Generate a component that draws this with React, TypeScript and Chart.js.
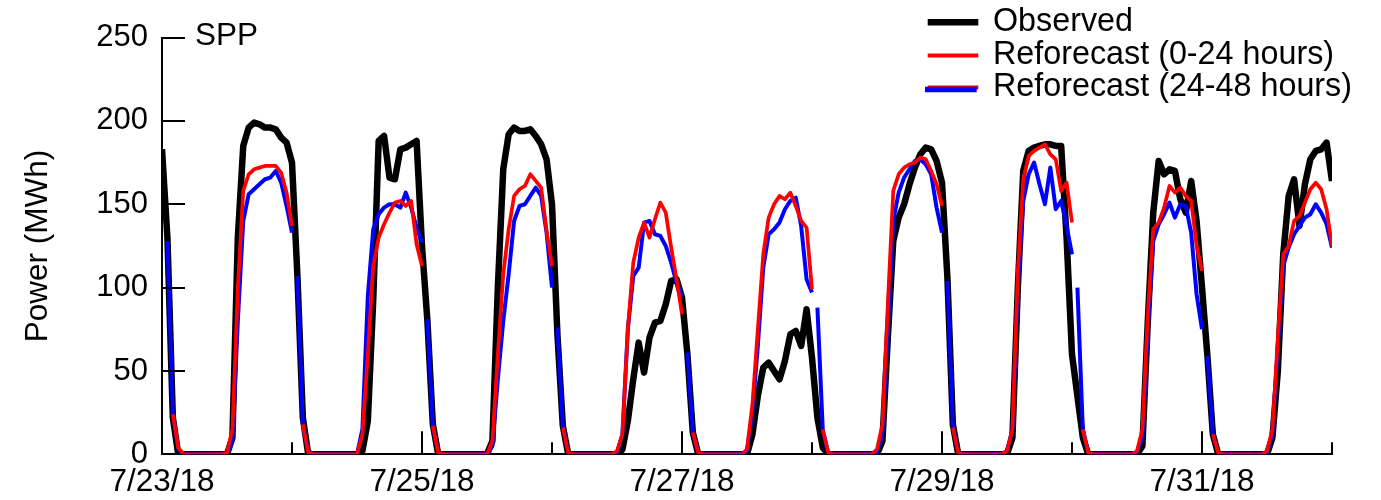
import React, { useEffect, useRef } from 'react';
import { Chart, registerables } from 'chart.js';

Chart.register(...registerables);

// ---- Data (hourly, starting 7/23/18 00:00) ----
const dayLabels = ['7/23/18', '7/24/18', '7/25/18', '7/26/18', '7/27/18', '7/28/18', '7/29/18', '7/30/18', '7/31/18', '8/1/18'];
const seriesLabels = ['Observed', 'Reforecast (0-24 hours)', 'Reforecast (24-48 hours)'];
const regionLabel = 'SPP';
const yAxisTitle = 'Power (MWh)';

const observed: number[] = [
  183, 130, 22, 0, 0, 0, 0, 0, 0, 0, 0, 0, 0, 10, 130, 185, 196, 199, 198, 196, 196, 195, 190, 187,
  175, 107, 22, 0, 0, 0, 0, 0, 0, 0, 0, 0, 0, 2, 20, 93, 188, 191, 166, 165, 183, 184, 186, 188,
  125, 80, 18, 0, 0, 0, 0, 0, 0, 0, 0, 0, 0, 8, 100, 171, 192, 196, 194, 194, 195, 191, 186, 177,
  150, 72, 17, 0, 0, 0, 0, 0, 0, 0, 0, 0, 0, 3, 20, 45, 67, 49, 70, 79, 80, 90, 104, 105,
  94, 60, 13, 0, 0, 0, 0, 0, 0, 0, 0, 0, 0, 12, 35, 52, 55, 50, 45, 56, 72, 74, 65, 87,
  58, 22, 4, 0, 0, 0, 0, 0, 0, 0, 0, 0, 0, 8, 70, 128, 142, 150, 162, 172, 180, 184, 183, 176,
  163, 106, 18, 0, 0, 0, 0, 0, 0, 0, 0, 0, 0, 10, 100, 170, 182, 184, 185, 186, 186, 185, 185, 130,
  60, 35, 10, 0, 0, 0, 0, 0, 0, 0, 0, 0, 0, 5, 80, 145, 176, 168, 171, 170, 153, 145, 164, 140,
  100, 59, 12, 0, 0, 0, 0, 0, 0, 0, 0, 0, 0, 10, 50, 120, 155, 165, 137, 162, 177, 182, 183, 187,
  164,
];

const reforecast0to24: (number | null)[] = [
  null, null, 24, 4, 0, 0, 0, 0, 0, 0, 0, 0, 1, 15, 100, 158, 168, 171, 172, 173, 173, 173, 169, 157,
  137, null, 18, 1, 0, 0, 0, 0, 0, 0, 0, 0, 0, 12, 60, 113, 130, 138, 145, 151, 152, 149, 152, 126,
  113, null, 17, 1, 0, 0, 0, 0, 0, 0, 0, 0, 0, 8, 60, 108, 135, 155, 159, 161, 168, 164, 160, 134,
  113, null, 16, 1, 0, 0, 0, 0, 0, 0, 0, 0, 2, 12, 75, 115, 130, 139, 130, 141, 151, 145, 124, 105,
  84, null, 13, 1, 0, 0, 0, 0, 0, 0, 0, 0, 3, 30, 75, 120, 142, 150, 155, 153, 157, 149, 140, 136,
  99, null, 15, 1, 0, 0, 0, 0, 0, 0, 0, 0, 3, 18, 90, 158, 168, 172, 174, 175, 178, 177, 170, 162,
  149, null, 16, 1, 0, 0, 0, 0, 0, 0, 0, 0, 2, 15, 110, 165, 179, 182, 184, 186, 180, 177, 158, 163,
  139, null, 15, 1, 0, 0, 0, 0, 0, 0, 0, 0, 2, 15, 85, 135, 139, 148, 161, 157, 160, 155, 152, 125,
  110, null, 12, 1, 0, 0, 0, 0, 0, 0, 0, 0, 2, 15, 70, 120, 125, 140, 143, 151, 159, 163, 159, 147,
  125,
];

const reforecast24to48: (number | null)[] = [
  null, 128, 24, 3, 0, 0, 0, 0, 0, 0, 0, 0, 0, 8, 80, 140, 156, 159, 162, 165, 166, 170, 163, 149,
  133, 107, 18, 2, 0, 0, 0, 0, 0, 0, 0, 0, 0, 15, 95, 135, 144, 148, 150, 150, 148, 157, 148, 136,
  127, 81, 17, 1, 0, 0, 0, 0, 0, 0, 0, 0, 0, 5, 45, 80, 108, 140, 149, 150, 155, 160, 155, 133,
  100, 76, 17, 1, 0, 0, 0, 0, 0, 0, 0, 0, 1, 12, 75, 107, 112, 139, 140, 132, 131, 125, 115, 103,
  95, 61, 13, 1, 0, 0, 0, 0, 0, 0, 0, 0, 2, 25, 65, 112, 132, 135, 139, 147, 152, 154, 137, 105,
  97, 88, 14, 1, 0, 0, 0, 0, 0, 0, 0, 0, 1, 12, 75, 140, 157, 166, 171, 176, 177, 174, 168, 148,
  133, 104, 17, 1, 0, 0, 0, 0, 0, 0, 0, 0, 2, 15, 100, 152, 168, 175, 162, 150, 172, 147, 152, 137,
  120, 100, 15, 1, 0, 0, 0, 0, 0, 0, 0, 0, 1, 10, 75, 128, 138, 144, 151, 142, 150, 149, 133, 96,
  75, 59, 12, 1, 0, 0, 0, 0, 0, 0, 0, 0, 1, 12, 65, 113, 124, 132, 137, 142, 144, 150, 145, 138,
  124,
];

const HOURS_PER_DAY = 24;
const FONT = '"Liberation Sans", Arial, Helvetica, sans-serif';

const toXY = (arr: (number | null)[]) => arr.map((v, i) => ({ x: i, y: v }));

const decorPlugin = {
  id: 'decor',
  afterDraw(chart: any) {
    const ctx = chart.ctx;
    const xs = chart.scales.x;
    const ys = chart.scales.y;
    const { left, top, bottom } = chart.chartArea;
    ctx.save();
    // inward tick marks
    ctx.strokeStyle = '#000';
    ctx.lineWidth = 2;
    ctx.lineCap = 'butt';
    xs.ticks.forEach((t: any) => {
      const px = Math.round(xs.getPixelForValue(t.value));
      const len = t.value % (2 * HOURS_PER_DAY) === 0 ? 23 : 12;
      ctx.beginPath();
      ctx.moveTo(px, bottom);
      ctx.lineTo(px, bottom - len);
      ctx.stroke();
    });
    ys.ticks.forEach((t: any) => {
      if (t.value === 0) return;
      const py = Math.round(ys.getPixelForValue(t.value));
      ctx.beginPath();
      ctx.moveTo(left, py);
      ctx.lineTo(left + 23, py);
      ctx.stroke();
    });

    // region label
    ctx.fillStyle = '#000';
    ctx.font = `31.5px ${FONT}`;
    ctx.textAlign = 'left';
    ctx.textBaseline = 'alphabetic';
    ctx.fillText(regionLabel, left + 33, top + 7);

    // legend
    const ds = chart.data.datasets;
    const rows = [
      { sampleY: 22.3, baseY: 31 },
      { sampleY: 55.5, baseY: 63.5 },
      { sampleY: 89.5, baseY: 96.3 },
    ];
    ds.forEach((d: any, i: number) => {
      const r = rows[i];
      if (i === 2) {
        ctx.strokeStyle = ds[1].borderColor;
        ctx.lineWidth = 4;
        ctx.beginPath();
        ctx.moveTo(927.7, r.sampleY - 2);
        ctx.lineTo(978.3, r.sampleY - 2);
        ctx.stroke();
        ctx.strokeStyle = d.borderColor;
        ctx.lineWidth = 5.5;
        ctx.beginPath();
        ctx.moveTo(925, r.sampleY);
        ctx.lineTo(976.7, r.sampleY);
        ctx.stroke();
      } else {
        ctx.strokeStyle = d.borderColor;
        ctx.lineWidth = i === 0 ? 6.5 : 4;
        ctx.beginPath();
        ctx.moveTo(927.7, r.sampleY);
        ctx.lineTo(978.3, r.sampleY);
        ctx.stroke();
      }
      ctx.fillStyle = '#000';
      ctx.font = `32.3px ${FONT}`;
      ctx.fillText(d.label, 993, r.baseY);
    });
    ctx.restore();
  },
};

export default function App() {
  const canvasRef = useRef<HTMLCanvasElement | null>(null);

  useEffect(() => {
    if (!canvasRef.current) return;
    const chart = new Chart(canvasRef.current, {
      type: 'line',
      data: {
        datasets: [
          {
            label: seriesLabels[0],
            data: toXY(observed),
            borderColor: '#000000',
            borderWidth: 6.5,
            order: 3,
            pointRadius: 0,
            tension: 0,
            borderJoinStyle: 'round',
          },
          {
            label: seriesLabels[1],
            data: toXY(reforecast0to24),
            borderColor: '#ff0000',
            borderWidth: 3.7,
            order: 1,
            pointRadius: 0,
            tension: 0,
            spanGaps: false,
            borderJoinStyle: 'round',
          },
          {
            label: seriesLabels[2],
            data: toXY(reforecast24to48),
            borderColor: '#0000ff',
            borderWidth: 4,
            order: 2,
            pointRadius: 0,
            tension: 0,
            spanGaps: false,
            borderJoinStyle: 'round',
            segment: {
              borderColor: (c: any) =>
                c.p0DataIndex % HOURS_PER_DAY === 0 ? 'rgba(0,0,0,0)' : '#0000ff',
            },
          },
        ] as any,
      },
      options: {
        responsive: false,
        animation: false,
        devicePixelRatio: 1,
        layout: { padding: { left: 0, right: 49, top: 37.6, bottom: 0 } },
        plugins: {
          legend: { display: false },
          tooltip: { enabled: false },
          title: { display: false },
        },
        scales: {
          x: {
            type: 'linear',
            position: 'bottom',
            min: 0,
            max: (dayLabels.length - 1) * HOURS_PER_DAY,
            afterFit: (s: any) => {
              s.height = 45.7;
            },
            ticks: {
              stepSize: HOURS_PER_DAY,
              autoSkip: false,
              maxRotation: 0,
              minRotation: 0,
              padding: 9,
              color: '#000',
              font: { family: FONT, size: 31.5 },
              callback: (v: any) =>
                Number(v) % (2 * HOURS_PER_DAY) === 0 ? dayLabels[Number(v) / HOURS_PER_DAY] : '',
            },
            grid: { drawOnChartArea: false, drawTicks: false },
            border: { display: true, color: '#000', width: 2 },
          },
          y: {
            type: 'linear',
            position: 'left',
            min: 0,
            max: 250,
            afterFit: (s: any) => {
              s.width = 162;
            },
            ticks: {
              stepSize: 50,
              padding: 14,
              color: '#000',
              font: { family: FONT, size: 31 },
            },
            grid: { drawOnChartArea: false, drawTicks: false },
            border: { display: true, color: '#000', width: 2 },
            title: {
              display: true,
              text: yAxisTitle,
              color: '#000',
              font: { family: FONT, size: 31.5 },
              padding: { top: 19, bottom: 0 },
            },
          },
        },
      } as any,
      plugins: [decorPlugin],
    });
    return () => chart.destroy();
  }, []);

  return (
    <div style={{ position: 'fixed', left: 0, top: 0, width: 1381, height: 500, background: '#fff' }}>
      <canvas ref={canvasRef} width={1381} height={500} style={{ display: 'block', width: 1381, height: 500 }} />
    </div>
  );
}
